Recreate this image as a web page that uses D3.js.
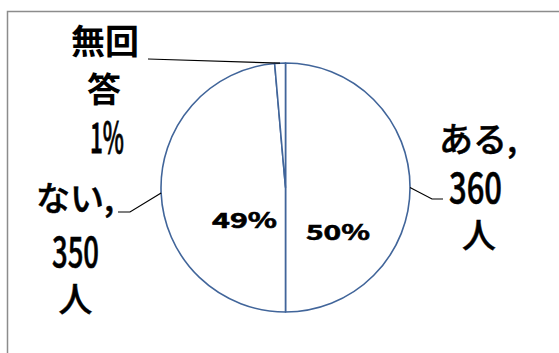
<!DOCTYPE html>
<html>
<head>
<meta charset="utf-8">
<script src="https://cdn.jsdelivr.net/npm/d3@7"></script>
<style>
  html, body { margin: 0; padding: 0; background: #fff; }
  svg { display: block; }
  text { font-family: "Noto Sans CJK JP", "Noto Sans", sans-serif; fill: #000; }
</style>
</head>
<body>
<svg id="chart" width="559" height="353"></svg>
<script>
// Pie chart: ある / ない / 無回答 (counts of people)
const categories = ['ある', 'ない', '無回答'];
const counts = [360, 350, 10];
const unit = '人';

// Layout (positions only, not data)
const W = 559, H = 353;
const cx = 285.5, cy = 187.5, R = 124.5;

const svg = d3.select('#chart');

// chart frame, runs off the right and bottom edges
svg.append('rect')
  .attr('x', 7.5).attr('y', 11.5)
  .attr('width', W + 20).attr('height', H + 20)
  .attr('fill', '#fff')
  .attr('stroke', '#8c8c8c')
  .attr('stroke-width', 1.5);

const total = d3.sum(counts);
const pct = d3.format('.0%');

const pie = d3.pie().sort(null).value(d => d);
const arcs = pie(counts);
const arc = d3.arc().innerRadius(0).outerRadius(R);

const g = svg.append('g').attr('transform', `translate(${cx},${cy})`);

g.selectAll('path')
  .data(arcs)
  .enter()
  .append('path')
  .attr('d', arc)
  .attr('fill', '#fff')
  .attr('stroke', '#41659a')
  .attr('stroke-width', 1.6)
  .attr('stroke-linejoin', 'round');

// point on the rim at the middle of a slice
function rimPoint(a){
  const m = (a.startAngle + a.endAngle) / 2;
  return [cx + R * Math.sin(m), cy - R * Math.cos(m)];
}

// leader line bends (hand placed like the original)
const leaders = [
  [[432, 199], [443, 199]],   // ある
  [[130, 212], [118, 212]],   // ない
  [[148, 59]]                 // 無回答
];

leaders.forEach((pts, i) => {
  const start = rimPoint(arcs[i]);
  svg.append('path')
    .attr('d', d3.line()([start, ...pts]))
    .attr('fill', 'none')
    .attr('stroke', '#000')
    .attr('stroke-width', 1.2);
});

// outside labels: one entry per text line
const outside = [
  [ // ある
    { t: categories[0] + ',', x: 478, y: 152, size: 34, sw: 0.5 },
    { t: String(counts[0]), x: 475.5, y: 203, size: 42, len: 53, sw: 0.6 },
    { t: unit, x: 479, y: 248, size: 34, sw: 0.5 }
  ],
  [ // ない
    { t: categories[1] + ',', x: 75, y: 211, size: 34, sw: 0.5 },
    { t: String(counts[1]), x: 75.5, y: 267, size: 42, len: 47, sw: 0.6 },
    { t: unit, x: 75.5, y: 312, size: 34, sw: 0.5 }
  ],
  [ // 無回答
    { t: categories[2].slice(0, 2), x: 105, y: 54, size: 34, weight: 700 },
    { t: categories[2].slice(2), x: 104, y: 102, size: 34, weight: 700 },
    { t: pct(counts[2] / total), x: 107, y: 153, size: 42, len: 34, sw: 0.8 }
  ]
];

outside.forEach(lines => {
  lines.forEach(l => {
    const t = svg.append('text')
      .attr('x', l.x).attr('y', l.y)
      .attr('text-anchor', 'middle')
      .attr('font-size', l.size)
      .attr('font-weight', l.weight || 500)
      .text(l.t);
    if (l.sw) t.attr('stroke', '#000').attr('stroke-width', l.sw);
    if (l.len) t.attr('textLength', l.len).attr('lengthAdjust', 'spacingAndGlyphs');
  });
});

// inside percentage labels
const inside = [
  { i: 0, x: 338, y: 239.5, len: 64 },
  { i: 1, x: 244.5, y: 227.5, len: 65 }
];
inside.forEach(l => {
  svg.append('text')
    .attr('x', l.x).attr('y', l.y)
    .attr('text-anchor', 'middle')
    .attr('font-size', 21)
    .attr('font-weight', 700)
    .attr('stroke', '#000')
    .attr('stroke-width', 0.6)
    .attr('textLength', l.len)
    .attr('lengthAdjust', 'spacingAndGlyphs')
    .text(pct(counts[l.i] / total));
});
</script>
</body>
</html>
